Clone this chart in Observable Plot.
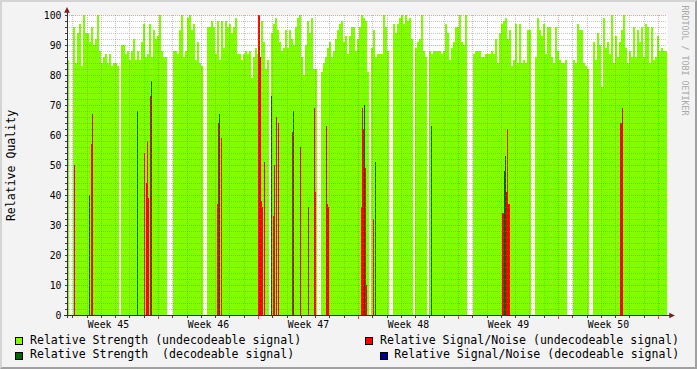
<!DOCTYPE html>
<html><head><meta charset="utf-8">
<script src="https://cdn.jsdelivr.net/npm/d3@7"></script>
<script src="https://cdn.jsdelivr.net/npm/@observablehq/plot@0.6"></script>
<style>
html,body{margin:0;padding:0;}
body{width:697px;height:369px;background:#f3f3f3;position:relative;overflow:hidden;font-family:"DejaVu Sans Mono",monospace;}
#frame{position:absolute;left:0;top:0;width:693px;height:365px;border:2px solid;border-color:#d4d4d4 #a0a0a0 #a0a0a0 #d4d4d4;pointer-events:none;}
#chart{position:absolute;left:0;top:0;}
.leg{position:absolute;font-size:11.56px;line-height:1;white-space:pre;color:#000;}
.sw{position:absolute;width:6px;height:6px;border:1px solid #000;}
</style></head>
<body>
<div id="chart"></div>
<div class="sw" style="left:15px;top:337px;background:#7fff00"></div>
<div class="leg" style="left:30px;top:334.5px">Relative Strength (undecodeable signal)</div>
<div class="sw" style="left:365px;top:337px;background:#ff0000"></div>
<div class="leg" style="left:380px;top:334.5px">Relative Signal/Noise (undecodeable signal)</div>
<div class="sw" style="left:15px;top:351.5px;background:#006400"></div>
<div class="leg" style="left:30px;top:349px">Relative Strength  (decodeable signal)</div>
<div class="sw" style="left:380px;top:351.5px;background:#00008b"></div>
<div class="leg" style="left:394.3px;top:349px">Relative Signal/Noise (decodeable signal)</div>
<div id="frame"></div>
<script>
// time in days since the start of week 45
const T0 = 0.63;            // first sample
const SPAN = 42;            // six weeks
const BIN = 0.14;           // width of one green sample (days)
const STEP = 0.07;          // width of one red / dark-green sample (days)

// Relative Strength (undecodeable signal), one value per BIN, null = no data
const strength = [
  85,null,null,96,84,94,97,83,100,94,94,91,96,90,92,100,88,84,86,87,
  84,87,83,84,84,83,null,90,90,87,88,85,88,92,85,88,85,91,97,86,
  87,97,86,95,92,93,100,88,86,86,null,null,null,88,88,87,95,100,86,88,
  99,100,95,97,85,91,84,83,null,null,96,96,98,96,87,98,85,98,89,98,
  96,97,94,96,99,87,87,85,87,88,87,88,79,86,89,87,85,98,91,82,
  85,null,94,97,99,95,91,88,89,95,89,95,92,90,96,99,100,86,80,90,
  98,94,99,82,82,null,null,81,84,86,89,91,86,88,92,95,97,98,91,93,
  87,93,96,96,88,92,96,100,99,98,81,null,89,95,86,87,87,87,100,96,
  88,null,null,97,94,97,99,100,97,100,98,99,92,null,89,91,92,100,88,86,
  null,88,87,88,88,88,88,87,88,97,94,85,89,91,96,96,100,91,90,100,
  null,null,null,87,88,88,88,86,86,87,87,87,88,87,92,84,94,97,98,99,
  92,95,83,85,97,84,97,84,85,84,95,95,null,null,86,99,95,93,97,87,
  96,96,86,84,96,88,85,84,84,85,null,null,null,85,84,97,95,95,84,83,
  82,null,null,91,85,94,90,76,99,89,91,87,100,84,93,86,91,95,100,89,
  84,88,86,96,86,95,91,96,86,97,96,84,96,85,86,93,88,89,88,88
];

// Relative Signal/Noise (undecodeable signal): [day, value]
const snrDays = [1.12,2.31,2.38,6.02,6.16,6.23,6.30,6.44,11.13,11.20,11.41,14.00,14.07,14.14,14.21,14.28,14.42,15.05,15.12,15.26,15.40,16.38,16.94,17.50,17.92,17.99,18.76,18.83,18.90,21.21,21.28,21.35,21.49,21.56,22.05,31.08,31.15,31.36,31.43,31.50,31.57,39.34,39.41,39.48];
const snrVals = [50,57,67,54,44,58,39,73,37,64,59,100,100,86,38,36,51,33,50,66,64,61,56,36,69,41,63,37,36,36,69,62,49,10,32,34,34,41,62,37,37,64,64,69];

// Relative Strength (decodeable signal)
const decDays = [2.17,5.53,6.51,11.27,14.91,16.45,21.42,22.19,26.11,31.22,31.29];
const decVals = [40,68,78,67,73,68,70,51,63,48,53];

// Relative Signal/Noise (decodeable signal): none in this period
const decSnrDays = [];
const decSnrVals = [];

const weekLabels = ["Week 45","Week 46","Week 47","Week 48","Week 49","Week 50"];
const weekCenters = [3.5,10.5,17.5,24.5,31.5,38.5];
const weekStarts = [7,14,21,28,35,42];
const yLabels = [0,10,20,30,40,50,60,70,80,90,100];

const COL = {green:"#7fff00", red:"#ff0000", dgreen:"#006400", blue:"#00008b"};

const greenRows = strength.map((v,i)=>({t0:T0+i*BIN, t1:T0+(i+1)*BIN, v})).filter(d=>d.v!=null);
const toRows = (days, vals) => days.map((t,i)=>({t0:t, t1:t+STEP, v:vals[i]}));
const redRows = toRows(snrDays, snrVals);
const dgRows = toRows(decDays, decVals);
const blueRows = toRows(decSnrDays, decSnrVals);

const days = d3.range(1, 43).filter(d => d % 7 !== 0);
const minorY = d3.range(2, 100, 2).filter(v => v % 10 !== 0);
const majorY = d3.range(10, 101, 10);

const upArrow = {draw(ctx, size){ const s=Math.sqrt(size); ctx.moveTo(0,-s*0.6); ctx.lineTo(s*0.5,s*0.4); ctx.lineTo(-s*0.5,s*0.4); ctx.closePath(); }};
const rightArrow = {draw(ctx, size){ const s=Math.sqrt(size); ctx.moveTo(s*0.6,0); ctx.lineTo(-s*0.4,s*0.5); ctx.lineTo(-s*0.4,-s*0.5); ctx.closePath(); }};

const chart = Plot.plot({
  width: 697, height: 332,
  marginLeft: 67, marginRight: 30, marginTop: 15, marginBottom: 17,
  style: {fontFamily: "DejaVu Sans Mono", fontSize: "9.8px", background: "transparent", overflow: "visible", color: "#000"},
  x: {domain: [T0, T0 + SPAN], axis: null},
  y: {domain: [0, 100], axis: null},
  marks: [
    Plot.frame({fill: "white", stroke: "none"}),
    Plot.rect(greenRows, {x1: "t0", x2: "t1", y1: 0, y2: "v", fill: COL.green, shapeRendering: "crispEdges"}),
    Plot.rect(redRows, {x1: "t0", x2: "t1", y1: 0, y2: "v", fill: COL.red, shapeRendering: "crispEdges"}),
    Plot.rect(dgRows, {x1: "t0", x2: "t1", y1: 0, y2: "v", fill: COL.dgreen, shapeRendering: "crispEdges"}),
    Plot.rect(blueRows, {x1: "t0", x2: "t1", y1: 0, y2: "v", fill: COL.blue, shapeRendering: "crispEdges"}),
    // grid
    Plot.ruleY(minorY, {stroke: "#808080", strokeOpacity: 0.45, strokeDasharray: "1,1", shapeRendering: "crispEdges"}),
    Plot.ruleX(days, {stroke: "#808080", strokeOpacity: 0.45, strokeDasharray: "1,1", shapeRendering: "crispEdges"}),
    Plot.ruleY(majorY, {stroke: "#ff4040", strokeOpacity: 0.5, strokeDasharray: "1,1", shapeRendering: "crispEdges"}),
    Plot.ruleX(weekStarts, {stroke: "#ff4040", strokeOpacity: 0.5, strokeDasharray: "1,1", shapeRendering: "crispEdges"}),
    // ticks
    Plot.ruleX(days, {y1: -1, y2: 0, stroke: "#404040", shapeRendering: "crispEdges"}),
    Plot.ruleX(weekStarts, {y1: -1.2, y2: 0, stroke: "#ff4040", shapeRendering: "crispEdges"}),
    Plot.ruleY(minorY.concat(majorY), {x1: T0 - 0.14, x2: T0, stroke: "#404040", shapeRendering: "crispEdges"}),
    // axes
    Plot.ruleY([0], {x1: T0 - 0.2, x2: T0 + SPAN + 0.2, stroke: "#303030", shapeRendering: "crispEdges"}),
    Plot.ruleX([T0], {y1: -1, y2: 101, stroke: "#303030", dx: -0.5, shapeRendering: "crispEdges"}),
    Plot.dot([[T0, 100]], {x: d => d[0], y: d => d[1], dy: -5, dx: -0.5, symbol: upArrow, r: 3.2, fill: "#7a1c1c", stroke: "none"}),
    Plot.dot([[T0 + SPAN, 0]], {x: d => d[0], y: d => d[1], dx: 4, symbol: rightArrow, r: 3.2, fill: "#7a1c1c", stroke: "none"}),
    // labels
    Plot.text(yLabels, {y: d => d, text: d => String(d), frameAnchor: "left", dx: -6, textAnchor: "end", fill: "#000"}),
    Plot.text(weekLabels, {x: (d, i) => weekCenters[i], text: d => d, frameAnchor: "bottom", lineAnchor: "top", dy: 5.3, fill: "#000"}),
    Plot.text(["Relative Quality"], {text: d => d, frameAnchor: "left", dx: -56, rotate: -90, textAnchor: "middle", fontSize: 11.56, fill: "#000"}),
    Plot.text(["RRDTOOL / TOBI OETIKER"], {text: d => d, frameAnchor: "top-right", dx: 20.5, dy: -10, rotate: 90, textAnchor: "start", fontSize: 8.3, fill: "#a8a8a8"})
  ]
});
document.getElementById("chart").append(chart);
</script>
</body></html>
